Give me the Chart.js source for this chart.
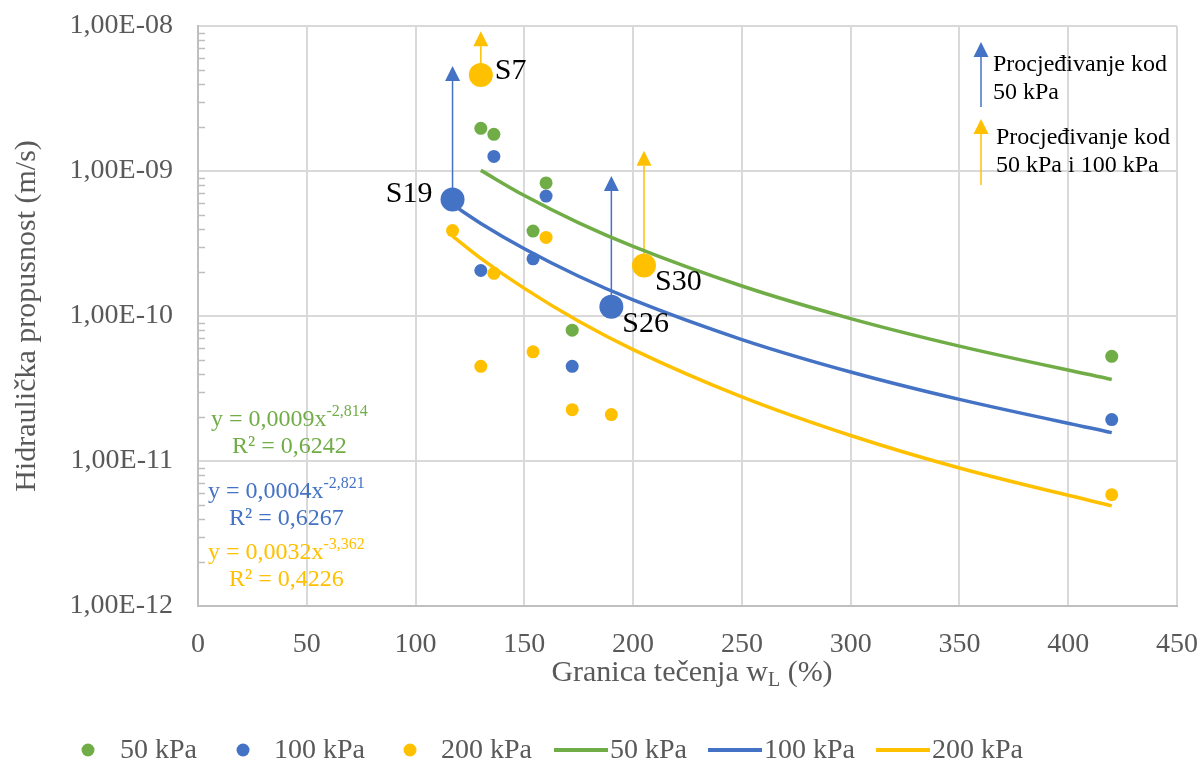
<!DOCTYPE html>
<html>
<head>
<meta charset="utf-8">
<script src="https://cdn.jsdelivr.net/npm/chart.js@4/dist/chart.umd.min.js"></script>
<style>
  html, body { margin: 0; padding: 0; background: #fff; overflow: hidden; }
  #wrap { width: 1203px; height: 763px; position: relative; }
</style>
</head>
<body>
<div id="wrap"><canvas id="chart"></canvas></div>
<script>
// axis ticks
const xMin = 0, xMax = 450, xStep = 50;
const yTickValues = [1e-12, 1e-11, 1e-10, 1e-9, 1e-8];
const yTickLabels = ['1,00E-12', '1,00E-11', '1,00E-10', '1,00E-09', '1,00E-08'];

// measured points, liquid limit wL (%) vs permeability (m/s)
const p50X = [130, 136, 160, 154, 172, 420];
const p50Y = [1.97e-9, 1.79e-9, 8.27e-10, 3.85e-10, 7.98e-11, 5.27e-11];

const p100X = [136, 117, 160, 154, 130, 190, 172, 420];
const p100Y = [1.26e-9, 6.35e-10, 6.72e-10, 2.48e-10, 2.06e-10, 1.16e-10, 4.5e-11, 1.93e-11];
const p100Tags = ['', 'S19', '', '', '', 'S26', '', ''];

const p200X = [130, 117, 160, 136, 205, 154, 130, 172, 190, 420];
const p200Y = [4.59e-9, 3.88e-10, 3.48e-10, 1.97e-10, 2.23e-10, 5.66e-11, 4.5e-11, 2.26e-11, 2.09e-11, 5.85e-12];
const p200Tags = ['S7', '', '', '', 'S30', '', '', '', '', ''];

// power trendlines
const trend50X = [130, 150, 175, 200, 250, 300, 350, 420];
const trend50Y = [1.01e-9, 6.77e-10, 4.39e-10, 3.02e-10, 1.61e-10, 9.6e-11, 6.2e-11, 3.65e-11];
const trend100X = [117, 130, 150, 175, 200, 250, 300, 350, 420];
const trend100Y = [5.86e-10, 4.35e-10, 2.91e-10, 1.88e-10, 1.29e-10, 6.88e-11, 4.11e-11, 2.66e-11, 1.57e-11];
const trend200X = [117, 130, 150, 175, 200, 250, 300, 350, 420];
const trend200Y = [3.56e-10, 2.5e-10, 1.55e-10, 9.2e-11, 5.87e-11, 2.77e-11, 1.5e-11, 8.95e-12, 4.9e-12];

// seepage arrows (x, from, to, series)
const arrowX = [117, 190, 130, 205];
const arrowFrom = [6.35e-10, 1.16e-10, 4.59e-9, 2.23e-10];
const arrowTo = [5.3e-9, 9.25e-10, 9.2e-9, 1.38e-9];
const arrowSeries = [1, 1, 2, 2];

const seriesNames = ['50 kPa', '100 kPa', '200 kPa'];
const equations = [
  ['y = 0,0009x', '-2,814', 'R² = 0,6242'],
  ['y = 0,0004x', '-2,821', 'R² = 0,6267'],
  ['y = 0,0032x', '-3,362', 'R² = 0,4226']
];
const seepageNotes = [['Procjeđivanje kod', '50 kPa'], ['Procjeđivanje kod', '50 kPa i 100 kPa']];

const colors = ['#70AD47', '#4472C4', '#FFC000'];
const textGray = '#595959';
const serif = '"Liberation Serif", "Times New Roman", serif';

Chart.defaults.font.family = serif;

function pts(xs, ys) {
  return xs.map((x, i) => ({ x, y: ys[i] }));
}

function drawArrow(ctx, x, y0, y1, color) {
  const head = 15, half = 7.5;
  ctx.save();
  ctx.strokeStyle = color;
  ctx.lineWidth = 1.5;
  ctx.beginPath();
  ctx.moveTo(x, y0);
  ctx.lineTo(x, y1 + head);
  ctx.stroke();
  ctx.fillStyle = color;
  ctx.beginPath();
  ctx.moveTo(x, y1);
  ctx.lineTo(x - half, y1 + head);
  ctx.lineTo(x + half, y1 + head);
  ctx.closePath();
  ctx.fill();
  ctx.restore();
}

// offsets for the sample names next to the big points
const tagOffsets = {
  S7: { dx: 14, dy: -4, align: 'left' },
  S19: { dx: -20, dy: -5, align: 'right' },
  S26: { dx: 11, dy: 17, align: 'left' },
  S30: { dx: 11, dy: 17, align: 'left' }
};

const overlay = {
  id: 'overlay',
  beforeDatasetsDraw(chart) {
    const { ctx, chartArea } = chart;
    const xs = chart.scales.x, ys = chart.scales.y;

    // minor log ticks inside the y axis
    ctx.save();
    ctx.strokeStyle = '#bfbfbf';
    ctx.lineWidth = 1.5;
    for (let e = -12; e < -8; e++) {
      for (let m = 2; m <= 9; m++) {
        const py = Math.round(ys.getPixelForValue(m * Math.pow(10, e))) + 0.5;
        ctx.beginPath();
        ctx.moveTo(chartArea.left, py);
        ctx.lineTo(chartArea.left + 7, py);
        ctx.stroke();
      }
    }
    ctx.restore();

    arrowX.forEach((x, i) => {
      drawArrow(ctx, xs.getPixelForValue(x), ys.getPixelForValue(arrowFrom[i]),
        ys.getPixelForValue(arrowTo[i]), colors[arrowSeries[i]]);
    });
  },
  afterDraw(chart) {
    const { ctx } = chart;

    // sample names
    ctx.save();
    ctx.font = '30px ' + serif;
    ctx.fillStyle = '#000';
    ctx.textBaseline = 'middle';
    [1, 2].forEach(di => {
      const meta = chart.getDatasetMeta(di);
      const tags = di === 1 ? p100Tags : p200Tags;
      tags.forEach((t, i) => {
        if (!t) return;
        const o = tagOffsets[t];
        const el = meta.data[i];
        ctx.textAlign = o.align;
        ctx.fillText(t, el.x + o.dx, el.y + o.dy);
      });
    });
    ctx.restore();

    // trendline equations
    const eqPos = [[211, 420, 232, 447], [208, 492, 229, 519], [208, 553, 229, 580]];
    ctx.save();
    ctx.textAlign = 'left';
    ctx.textBaseline = 'middle';
    equations.forEach((eq, i) => {
      const [x1, y1, x2, y2] = eqPos[i];
      ctx.fillStyle = colors[i];
      ctx.font = '24px ' + serif;
      ctx.fillText(eq[0], x1, y1);
      const w = ctx.measureText(eq[0]).width;
      ctx.fillText(eq[2], x2, y2);
      ctx.font = '16px ' + serif;
      ctx.fillText(eq[1], x1 + w, y1 - 8);
    });
    ctx.restore();

    // seepage key (top right)
    drawArrow(ctx, 981, 107, 42, colors[1]);
    drawArrow(ctx, 981, 185, 119, colors[2]);
    ctx.save();
    ctx.font = '24px ' + serif;
    ctx.fillStyle = '#000';
    ctx.textAlign = 'left';
    ctx.textBaseline = 'middle';
    ctx.fillText(seepageNotes[0][0], 993, 65);
    ctx.fillText(seepageNotes[0][1], 993, 93);
    ctx.fillText(seepageNotes[1][0], 996, 138);
    ctx.fillText(seepageNotes[1][1], 996, 166);
    ctx.restore();

    // x axis title with subscript
    ctx.save();
    ctx.fillStyle = textGray;
    ctx.textBaseline = 'alphabetic';
    ctx.textAlign = 'left';
    ctx.font = '30px ' + serif;
    const a = 'Granica tečenja w', b = 'L', c = ' (%)';
    const wa = ctx.measureText(a).width, wc = ctx.measureText(c).width;
    ctx.font = '20px ' + serif;
    const wb = ctx.measureText(b).width;
    let x0 = 692 - (wa + wb + wc) / 2;
    ctx.font = '30px ' + serif;
    ctx.fillText(a, x0, 681);
    ctx.font = '20px ' + serif;
    ctx.fillText(b, x0 + wa, 686);
    ctx.font = '30px ' + serif;
    ctx.fillText(c, x0 + wa + wb, 681);
    ctx.restore();

    // legend
    const legend = [
      { kind: 'dot', ds: 0, x: 88, tx: 120 },
      { kind: 'dot', ds: 1, x: 243, tx: 274 },
      { kind: 'dot', ds: 2, x: 410, tx: 441 },
      { kind: 'line', ds: 3, x: 554, tx: 610 },
      { kind: 'line', ds: 4, x: 708, tx: 764 },
      { kind: 'line', ds: 5, x: 876, tx: 932 }
    ];
    ctx.save();
    ctx.font = '28px ' + serif;
    ctx.textAlign = 'left';
    ctx.textBaseline = 'middle';
    legend.forEach(item => {
      const ds = chart.data.datasets[item.ds];
      if (item.kind === 'dot') {
        ctx.fillStyle = ds.backgroundColor;
        ctx.beginPath();
        ctx.arc(item.x, 750, 6.5, 0, Math.PI * 2);
        ctx.fill();
      } else {
        ctx.strokeStyle = ds.borderColor;
        ctx.lineWidth = 4;
        ctx.beginPath();
        ctx.moveTo(item.x, 750);
        ctx.lineTo(item.x + 54, 750);
        ctx.stroke();
      }
      ctx.fillStyle = textGray;
      ctx.fillText(ds.label, item.tx, 751);
    });
    ctx.restore();
  }
};

const pointSize = tags => c => (tags && tags[c.dataIndex] ? 12 : 6.5);

new Chart(document.getElementById('chart'), {
  type: 'scatter',
  data: {
    datasets: [
      { label: seriesNames[0], data: pts(p50X, p50Y), backgroundColor: colors[0], borderWidth: 0, pointRadius: 6.5 },
      { label: seriesNames[1], data: pts(p100X, p100Y), backgroundColor: colors[1], borderWidth: 0, pointRadius: pointSize(p100Tags) },
      { label: seriesNames[2], data: pts(p200X, p200Y), backgroundColor: colors[2], borderWidth: 0, pointRadius: pointSize(p200Tags) },
      { label: seriesNames[0], data: pts(trend50X, trend50Y), showLine: true, borderColor: colors[0], borderWidth: 3.5, pointRadius: 0, cubicInterpolationMode: 'monotone' },
      { label: seriesNames[1], data: pts(trend100X, trend100Y), showLine: true, borderColor: colors[1], borderWidth: 3.5, pointRadius: 0, cubicInterpolationMode: 'monotone' },
      { label: seriesNames[2], data: pts(trend200X, trend200Y), showLine: true, borderColor: colors[2], borderWidth: 3.5, pointRadius: 0, cubicInterpolationMode: 'monotone' }
    ]
  },
  options: {
    responsive: true,
    maintainAspectRatio: false,
    animation: false,
    layout: { padding: { top: 26, right: 26, left: 0, bottom: 0 } },
    plugins: {
      legend: { display: false },
      tooltip: { enabled: false }
    },
    scales: {
      x: {
        type: 'linear',
        min: xMin,
        max: xMax,
        afterFit: s => { s.height = 157; s.paddingLeft = 0; s.paddingRight = 0; },
        ticks: { stepSize: xStep, color: textGray, font: { size: 28 }, padding: 22 },
        grid: { color: '#d9d9d9', lineWidth: 2, drawTicks: false },
        border: { color: '#bfbfbf', width: 2 }
      },
      y: {
        type: 'logarithmic',
        min: yTickValues[0],
        max: yTickValues[yTickValues.length - 1],
        afterFit: s => { s.width = 198; s.paddingTop = 0; s.paddingBottom = 0; },
        afterBuildTicks: s => { s.ticks = yTickValues.map(v => ({ value: v })); },
        ticks: {
          color: textGray,
          font: { size: 28 },
          padding: 25,
          callback: (v, i) => yTickLabels[i]
        },
        grid: { color: '#d9d9d9', lineWidth: 2, drawTicks: false },
        border: { color: '#bfbfbf', width: 2 },
        title: {
          display: true,
          text: 'Hidraulička propusnost (m/s)',
          color: textGray,
          font: { size: 30 },
          padding: { top: 9, bottom: 0 }
        }
      }
    }
  },
  plugins: [overlay]
});
</script>
</body>
</html>
